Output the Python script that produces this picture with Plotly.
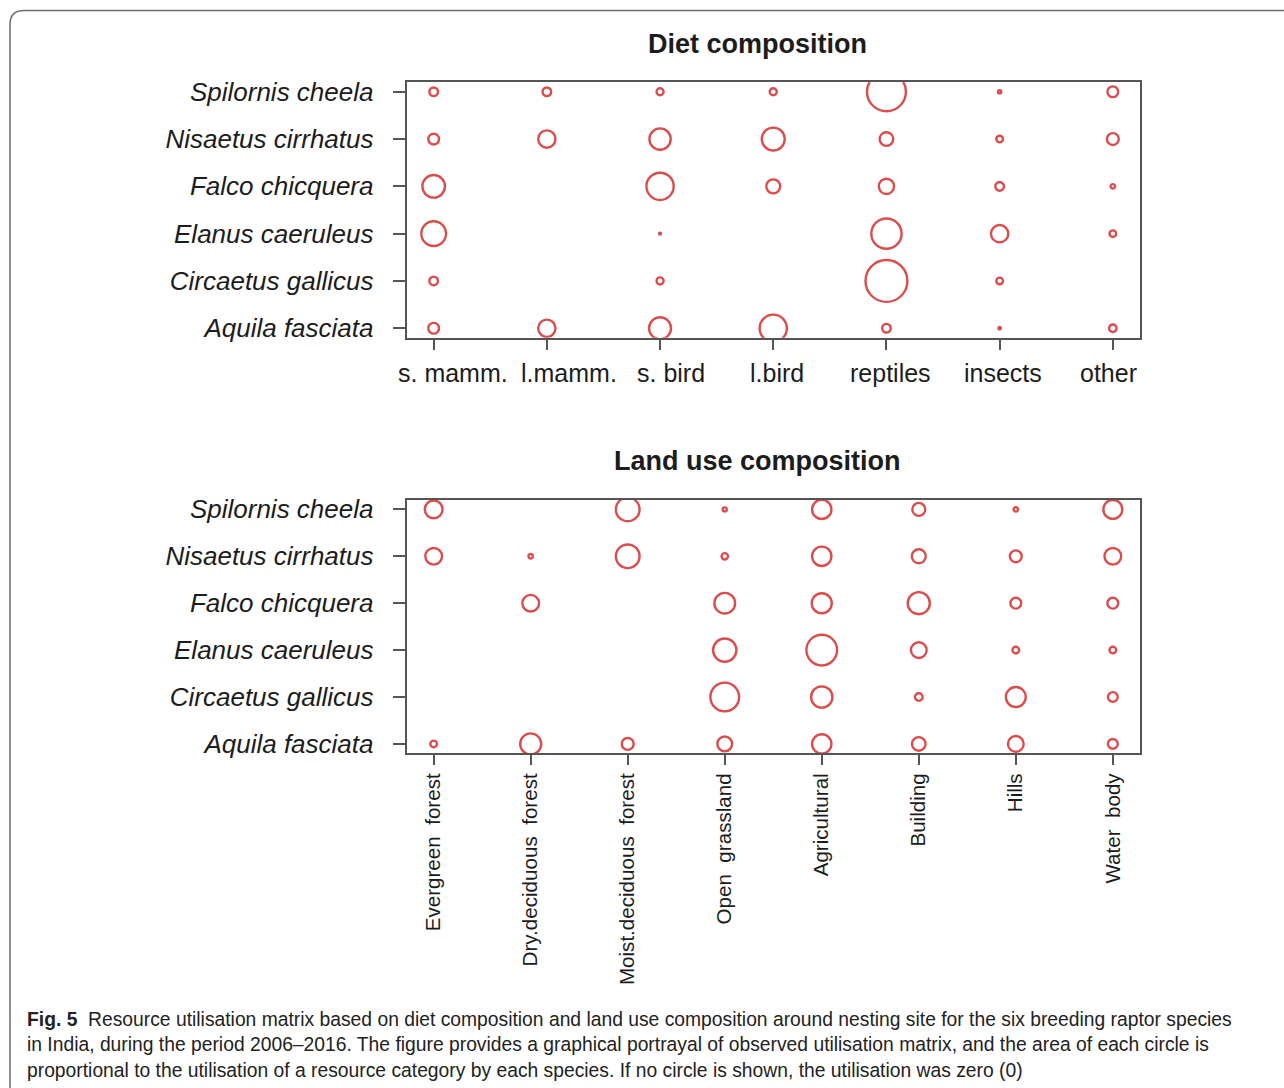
import numpy as np
import plotly.graph_objects as go

# Species, bottom row first
species = ["Aquila fasciata", "Circaetus gallicus", "Elanus caeruleus",
           "Falco chicquera", "Nisaetus cirrhatus", "Spilornis cheela"]

diet_categories = ["s. mamm.", "l.mamm.", "s. bird", "l.bird", "reptiles", "insects", "other"]

# Diet utilisation (%) per species, rows in the same order as `species`
diet_util = [
    [6.3, 16.3, 26.3, 40.5, 4.1, 0.3, 3.1],    # Aquila fasciata
    [4.1, 0.0, 2.7, 0.0, 95.9, 2.4, 0.0],      # Circaetus gallicus
    [33.2, 0.0, 0.2, 0.0, 49.9, 16.3, 2.4],    # Elanus caeruleus
    [27.8, 0.0, 40.5, 10.7, 12.7, 4.1, 1.1],   # Falco chicquera
    [6.3, 16.3, 24.7, 28.8, 10.2, 2.4, 7.7],   # Nisaetus cirrhatus
    [4.1, 4.1, 2.7, 2.7, 82.7, 0.6, 6.3],      # Spilornis cheela
]

land_categories = ["Evergreen\u00a0 forest", "Dry.deciduous\u00a0 forest",
                   "Moist.deciduous\u00a0 forest", "Open\u00a0 grassland",
                   "Agricultural", "Building", "Hills", "Water\u00a0 body"]

# Land use utilisation (%) around nesting sites
land_util = [
    [2.4, 24.1, 7.7, 11.8, 20.4, 10.0, 13.5, 5.2],   # Aquila fasciata
    [0.0, 0.0, 0.0, 45.0, 24.8, 3.2, 21.6, 5.2],     # Circaetus gallicus
    [0.0, 0.0, 0.0, 29.7, 51.5, 13.5, 2.4, 2.4],     # Elanus caeruleus
    [0.0, 15.2, 0.0, 23.4, 21.9, 26.7, 6.4, 6.4],    # Falco chicquera
    [15.2, 1.1, 30.7, 2.2, 20.4, 10.7, 7.7, 15.2],   # Nisaetus cirrhatus
    [17.3, 0.0, 30.7, 0.9, 20.4, 9.2, 1.1, 19.5],    # Spilornis cheela
]

W, H = 1284, 1088
RED = "#cc0000"
AXIS = "#555555"
TEXT = "#1c1c1c"
FONT = "Liberation Sans, Arial, sans-serif"
K = 4.28  # px of diameter per sqrt(%) -> circle area proportional to utilisation


def px_x(p):
    return p / W


def px_y(p):
    return 1 - p / H


def bubble_trace(util, xaxis, yaxis):
    xs, ys, ss = [], [], []
    for i, row in enumerate(util):
        for j, v in enumerate(row):
            if v > 0:
                xs.append(j + 1)
                ys.append(i + 1)
                ss.append(K * np.sqrt(v))
    return go.Scatter(
        x=xs, y=ys, mode="markers", xaxis=xaxis, yaxis=yaxis,
        marker=dict(symbol="circle-open", size=ss, sizemode="diameter",
                    color=RED, line=dict(color=RED, width=2.4)),
        hoverinfo="skip", showlegend=False,
    )


fig = go.Figure()
fig.add_trace(bubble_trace(diet_util, "x", "y"))
fig.add_trace(bubble_trace(land_util, "x2", "y2"))

xdom = [px_x(406.5), px_x(1140)]
common_axis = dict(showgrid=False, zeroline=False, showline=True, mirror=True,
                   linecolor=AXIS, linewidth=1.6, ticks="outside",
                   tickcolor=AXIS, tickwidth=1.6, automargin=False)

yaxis_style = dict(common_axis, tickvals=list(range(1, 7)), ticktext=species,
                   range=[0.8, 6.2], ticklen=12, ticklabelstandoff=14,
                   tickfont=dict(family=FONT, size=26, color=TEXT, style="italic"))

fig.update_layout(
    width=W, height=H,
    margin=dict(l=0, r=0, t=0, b=0, pad=0, autoexpand=False),
    paper_bgcolor="white", plot_bgcolor="white",
    xaxis=dict(common_axis, domain=xdom, anchor="y", range=[0.76, 7.24],
               tickvals=list(range(1, 8)), ticktext=[""] * 7, ticklen=10),
    yaxis=dict(yaxis_style, domain=[px_y(337.7), px_y(82.3)], anchor="x"),
    xaxis2=dict(common_axis, domain=xdom, anchor="y2", range=[0.72, 8.28],
                tickvals=list(range(1, 9)), ticktext=land_categories,
                ticklen=10, tickangle=-90, ticklabelstandoff=0,
                tickfont=dict(family=FONT, size=20.6, color=TEXT)),
    yaxis2=dict(yaxis_style, domain=[px_y(753.3), px_y(500)], anchor="x2"),
)

# Diet category labels below the upper panel
diet_label_shift = [19, 22, 11, 4, 4, 3, -4]
for j, (lab, dx) in enumerate(zip(diet_categories, diet_label_shift)):
    fig.add_annotation(x=j + 1, xref="x", y=px_y(373), yref="paper",
                       text=lab, showarrow=False, xshift=dx,
                       xanchor="center", yanchor="middle",
                       font=dict(family=FONT, size=25, color=TEXT))

# Panel titles
for title, yc in [("Diet composition", 44), ("Land use composition", 461)]:
    fig.add_annotation(x=px_x(757), y=px_y(yc), xref="paper", yref="paper",
                       text=f"<b>{title}</b>", showarrow=False,
                       xanchor="center", yanchor="middle",
                       font=dict(family=FONT, size=27, color=TEXT))

# Caption
caption_lines = [
    "<b>Fig. 5</b>\u00a0 Resource utilisation matrix based on diet composition and land use composition around nesting site for the six breeding raptor species",
    "in India, during the period 2006–2016. The figure provides a graphical portrayal of observed utilisation matrix, and the area of each circle is",
    "proportional to the utilisation of a resource category by each species. If no circle is shown, the utilisation was zero (0)",
]
for line, yc in zip(caption_lines, [1019, 1044, 1070]):
    fig.add_annotation(x=px_x(25), y=px_y(yc), xref="paper", yref="paper",
                       text=line, showarrow=False, xanchor="left", yanchor="middle",
                       align="left",
                       font=dict(family="Liberation Sans Narrow, Arial Narrow, Liberation Sans, sans-serif",
                                 size=19.3, color="#222222"))

# Rounded figure frame (open at right and bottom)
x0, yt, r = 10, 10.5, 14
frame = (f"M {px_x(x0)},{px_y(H + 5)} L {px_x(x0)},{px_y(yt + r)} "
         f"Q {px_x(x0)},{px_y(yt)} {px_x(x0 + r)},{px_y(yt)} L {px_x(W + 5)},{px_y(yt)}")
fig.add_shape(type="path", path=frame, xref="paper", yref="paper",
              line=dict(color="#6e6e6e", width=1.5))

fig.write_html("out.html")
